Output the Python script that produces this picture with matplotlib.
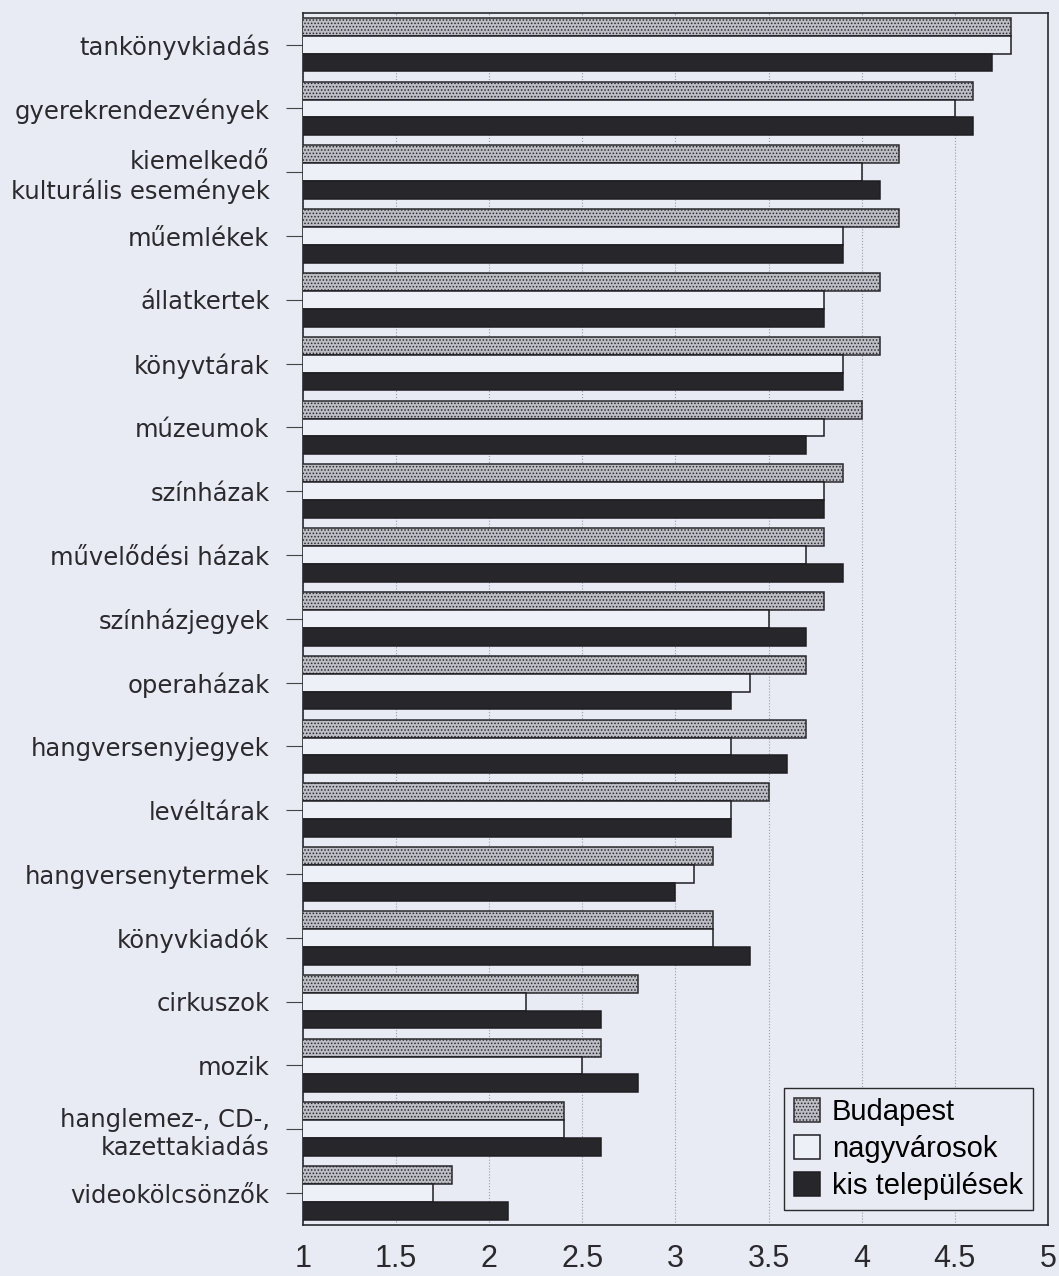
import numpy as np
import matplotlib
matplotlib.use("Agg")
import matplotlib.pyplot as plt

# values
categories = ['tankönyvkiadás', 'gyerekrendezvények', 'kiemelkedő\nkulturális események',
              'műemlékek', 'állatkertek', 'könyvtárak', 'múzeumok', 'színházak',
              'művelődési házak', 'színházjegyek', 'operaházak', 'hangversenyjegyek',
              'levéltárak', 'hangversenytermek', 'könyvkiadók', 'cirkuszok', 'mozik',
              'hanglemez-, CD-,\nkazettakiadás', 'videokölcsönzők']
budapest = [4.8, 4.6, 4.2, 4.2, 4.1, 4.1, 4.0, 3.9, 3.8, 3.8, 3.7, 3.7, 3.5, 3.2, 3.2, 2.8, 2.6, 2.4, 1.8]
nagyvarosok = [4.8, 4.5, 4.0, 3.9, 3.8, 3.9, 3.8, 3.8, 3.7, 3.5, 3.4, 3.3, 3.3, 3.1, 3.2, 2.2, 2.5, 2.4, 1.7]
kis_telepulesek = [4.7, 4.6, 4.1, 3.9, 3.8, 3.9, 3.7, 3.8, 3.9, 3.7, 3.3, 3.6, 3.3, 3.0, 3.4, 2.6, 2.8, 2.6, 2.1]
series_names = ['Budapest', 'nagyvárosok', 'kis települések']
xticks = [1, 1.5, 2, 2.5, 3, 3.5, 4, 4.5, 5]

paper = '#e9ebf4'
plt.rcParams['hatch.linewidth'] = 0.7
narrow = ['Liberation Sans Narrow', 'Liberation Sans', 'DejaVu Sans']

fig = plt.figure(figsize=(10.59, 12.76), dpi=100, facecolor=paper)
ax = fig.add_axes([0.286, 0.040, 0.7035, 0.950], facecolor=paper)

y = np.arange(len(categories))
h = 0.28
ax.barh(y - h, budapest, height=h, color='#bdbec5', edgecolor='#2a2a2e',
        hatch='.....', linewidth=1.1, label=series_names[0], zorder=3)
ax.barh(y, nagyvarosok, height=h, color='#eef0f8', edgecolor='#1e1e22',
        linewidth=1.1, label=series_names[1], zorder=3)
ax.barh(y + h, kis_telepulesek, height=h, color='#26262b', edgecolor='#1e1e22',
        linewidth=1.1, label=series_names[2], zorder=3)

ax.set_xlim(1, 5)
ax.set_ylim(len(categories) - 0.5, -0.5)
ax.set_yticks(y)
ax.set_yticklabels(categories, fontsize=17.5, family='DejaVu Sans', color='#2a2a2e')
ax.set_xticks(xticks)
ax.set_xticklabels([f'{t:g}' for t in xticks], fontsize=22, family=narrow, color='#2a2a2e')
ax.tick_params(axis='y', length=12, width=0.8, pad=12, color='#444')
ax.tick_params(axis='x', length=0, pad=14)

ax.grid(axis='x', linestyle=':', color='#9a9ca6', linewidth=0.8, zorder=0)
for s in ax.spines.values():
    s.set_linewidth(1.2)
    s.set_color('#2a2a2e')

leg = ax.legend(loc='lower right', prop={'family': narrow, 'size': 21},
                handlelength=0.9, handleheight=0.9, handletextpad=0.4,
                fancybox=False, framealpha=1, facecolor=paper, edgecolor='#2a2a2e',
                borderaxespad=0.5, labelspacing=0.3, borderpad=0.35)
leg.get_frame().set_linewidth(1.0)

fig.savefig('out.png', dpi=100, facecolor=paper)
